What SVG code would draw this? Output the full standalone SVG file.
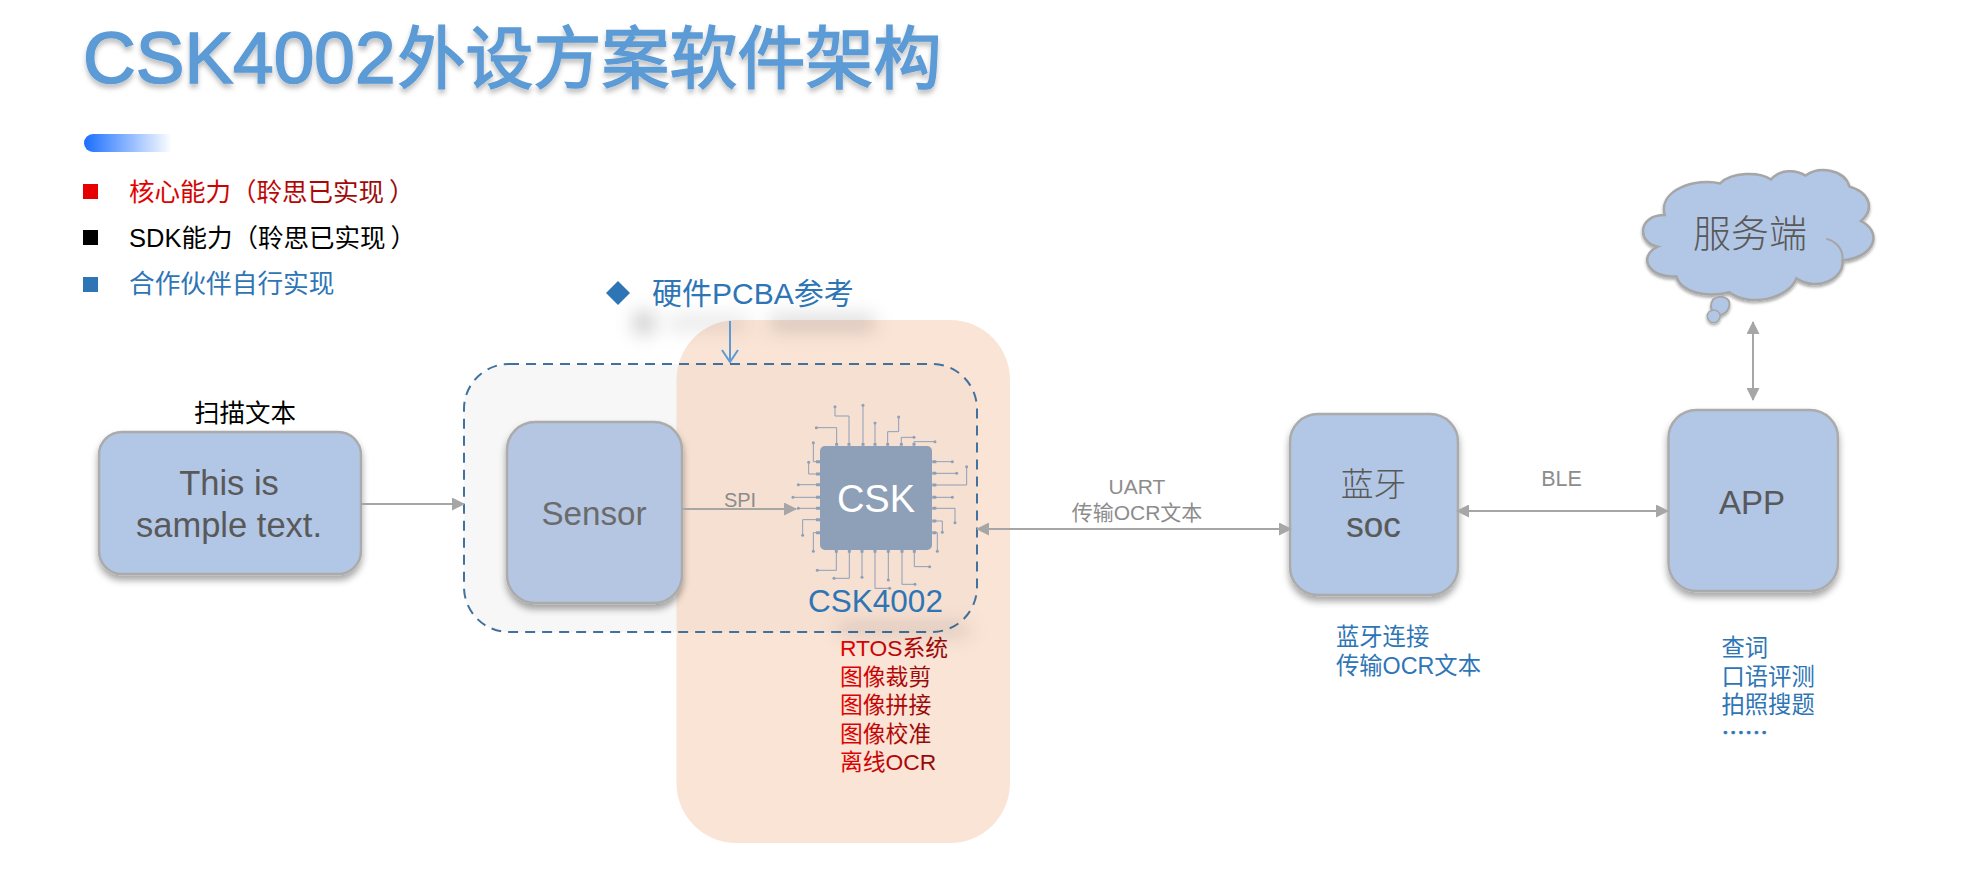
<svg xmlns="http://www.w3.org/2000/svg" width="1964" height="896" viewBox="0 0 1964 896">
<style>
text{font-family:"Liberation Sans","Noto Sans CJK SC",sans-serif}
.box{fill:#b2c6e5;stroke:#ababab;stroke-width:2.500;filter:url(#sh)}
.lab{fill:#595959}
.conn{fill:#8c8c8c}
.blue{fill:#2e75b6}
.red{fill:url(#redg)}
.line{stroke:#a6a6a6;stroke-width:2;fill:none}
.pin{fill:none;stroke:#8e9fb8;stroke-width:3}
.dot{fill:#8e9fb8}
</style>
<defs>
<linearGradient id="barg" x1="0" x2="1" y1="0" y2="0"><stop offset="0" stop-color="#1a6eff"/><stop offset="1" stop-color="#fff"/></linearGradient>
<linearGradient id="redg" x1="0" x2="1" y1="0" y2="0"><stop offset="0" stop-color="#e60000"/><stop offset="1" stop-color="#8f0a0a"/></linearGradient>
<filter id="sh" x="-20%" y="-20%" width="140%" height="140%"><feDropShadow dx="0" dy="5" stdDeviation="3.5" flood-color="#000" flood-opacity=".35"/></filter>
<filter id="tsh" x="-5%" y="-20%" width="110%" height="150%"><feDropShadow dx="0" dy="4" stdDeviation="2.500" flood-color="#000" flood-opacity=".25"/></filter>
<filter id="blur" x="-30%" y="-100%" width="160%" height="300%"><feGaussianBlur stdDeviation="9"/></filter>
<clipPath id="peach"><rect x="676.500" y="320" width="333.500" height="523" rx="60"/></clipPath>
<marker id="tri" viewBox="0 0 13 13" refX="12" refY="6.5" markerWidth="13" markerHeight="13" markerUnits="userSpaceOnUse" orient="auto-start-reverse"><path d="M0 0L13 6.5L0 13z" fill="#a6a6a6"/></marker>
<marker id="open" viewBox="0 0 18 14" refX="9" refY="13" markerWidth="18" markerHeight="14" markerUnits="userSpaceOnUse" orient="0"><path d="M1 1L9 13L17 1" fill="none" stroke="#5b9bd5" stroke-width="2"/></marker>
</defs>
<rect width="1964" height="896" fill="#fff"/>

<g id="title">
<text x="83" y="83" font-size="73" fill="#5b9bd5" stroke="#5b9bd5" stroke-width="1.600" filter="url(#tsh)">CSK4002<tspan font-size="68" dx="2">外设方案软件架构</tspan></text>
<path d="M93 134H172V152H93A9 9 0 0 1 84 143A9 9 0 0 1 93 134Z" fill="url(#barg)"/>
</g>

<g id="legend">
<rect x="83" y="184" width="15" height="15" fill="#e60000"/>
<text x="129" y="201" font-size="25.500" class="red">核心能力（聆思已实现<tspan dx="5">）</tspan></text>
<rect x="83" y="230" width="15" height="15" fill="#000"/>
<text x="129" y="247" font-size="25.500">SDK能力（聆思已实现<tspan dx="5">）</tspan></text>
<rect x="83" y="277" width="15" height="15" fill="#2e75b6"/>
<text x="129" y="293" font-size="25.700" class="blue">合作伙伴自行实现</text>
</g>

<g id="pcba-area">
<rect x="464" y="364" width="513" height="268" rx="45" fill="#f7f7f7"/>
<rect x="676.500" y="320" width="333.500" height="523" rx="60" fill="#fae4d6"/>
<rect x="464" y="364" width="513" height="268" rx="45" fill="#000" fill-opacity=".015" clip-path="url(#peach)"/>
<rect x="464" y="364" width="513" height="268" rx="45" fill="none" stroke="#41719c" stroke-width="2" stroke-dasharray="10 7"/>
</g>

<g id="pcba-label">
<g filter="url(#blur)" fill="#000" fill-opacity=".2">
<rect x="634" y="312" width="20" height="22"/>
<rect x="668" y="314" width="80" height="18" fill-opacity=".08"/>
<rect x="770" y="314" width="105" height="18" fill-opacity=".13"/>
</g>
<path d="M618 281L630 293L618 305L606 293Z" fill="#2e75b6"/>
<text x="652" y="304" font-size="30" class="blue">硬件PCBA参考</text>
</g>

<g id="soft-shadow">
<rect x="838" y="622" width="132" height="16" fill="#000" fill-opacity=".1" filter="url(#blur)"/>
</g>

<g id="scan">
<text x="245" y="422" font-size="25.500" text-anchor="middle" fill="#000">扫描文本</text>
<rect class="box" x="99" y="432" width="262" height="142" rx="23"/>
<text x="229" y="495" font-size="34.500" text-anchor="middle" class="lab">This is</text>
<text x="229" y="537" font-size="34.500" text-anchor="middle" class="lab">sample text.</text>
</g>

<g id="sensor">
<rect class="box" x="507" y="422" width="175" height="181" rx="28" style="fill:#b4c6e2"/>
<text x="594" y="525" font-size="33.200" text-anchor="middle" fill="#6b6b6b">Sensor</text>
</g>

<g id="chip">
<g transform="translate(780 390) scale(.3333)">
<path class="pin" d="M170 167V113H109M207 167V78H165V50M249 167V46M285 167V99M323 167V125H356V81M364 167V142H402M402 167V155H465M457 215H517M457 250H530M457 285H560V230M457 322H517M457 355H525V398M457 393H487V427M457 428H472V484M120 215H100V158M120 252H86V217M120 284H55M120 322H39M120 355H55M120 389H68V436M120 428H100V484M169 480V541H112M208 480V565H162M246 480V562M285 480V595H329M325 480V570M366 480V583H405M403 480V530H449"/>
<path class="pin" style="stroke-width:9" d="M170 167V159M207 167V159M249 167V159M285 167V159M323 167V159M364 167V159M402 167V159M457 215H469M457 250H469M457 285H469M457 322H469M457 355H469M457 393H469M457 428H469M120 215H108M120 252H108M120 284H108M120 322H108M120 355H108M120 389H108M120 428H108M169 480V488M208 480V488M246 480V488M285 480V488M325 480V488M366 480V488M403 480V488"/>
<g class="dot"><circle cx="109" cy="113" r="4.500"/><circle cx="165" cy="50" r="4.500"/><circle cx="249" cy="46" r="4.500"/><circle cx="285" cy="99" r="4.500"/><circle cx="356" cy="81" r="4.500"/><circle cx="402" cy="142" r="4.500"/><circle cx="465" cy="155" r="4.500"/><circle cx="517" cy="215" r="4.500"/><circle cx="530" cy="250" r="4.500"/><circle cx="560" cy="230" r="4.500"/><circle cx="517" cy="322" r="4.500"/><circle cx="525" cy="398" r="4.500"/><circle cx="487" cy="427" r="4.500"/><circle cx="472" cy="484" r="4.500"/><circle cx="100" cy="158" r="4.500"/><circle cx="86" cy="217" r="4.500"/><circle cx="55" cy="284" r="4.500"/><circle cx="39" cy="322" r="4.500"/><circle cx="55" cy="355" r="4.500"/><circle cx="68" cy="436" r="4.500"/><circle cx="100" cy="484" r="4.500"/><circle cx="112" cy="541" r="4.500"/><circle cx="162" cy="565" r="4.500"/><circle cx="246" cy="562" r="4.500"/><circle cx="329" cy="595" r="4.500"/><circle cx="325" cy="570" r="4.500"/><circle cx="405" cy="583" r="4.500"/><circle cx="449" cy="530" r="4.500"/></g>
</g>
<rect x="820" y="446" width="112" height="104" rx="5" fill="#8e9fb8"/>
<text x="876" y="512" font-size="38" text-anchor="middle" fill="#fff">CSK</text>
<text x="875.500" y="612" font-size="31.500" text-anchor="middle" class="blue">CSK4002</text>
<text x="840" y="656" font-size="22.800" class="red">RTOS系统</text>
<text x="840" y="685" font-size="22.800" class="red">图像裁剪</text>
<text x="840" y="713" font-size="22.800" class="red">图像拼接</text>
<text x="840" y="742" font-size="22.800" class="red">图像校准</text>
<text x="840" y="770" font-size="22.800" class="red">离线OCR</text>
</g>

<g id="bluetooth">
<rect class="box" x="1290" y="414" width="168" height="181" rx="28"/>
<text x="1373.500" y="496" font-size="32.800" text-anchor="middle" class="lab" font-weight="300">蓝牙</text>
<text x="1373.500" y="537" font-size="35" text-anchor="middle" class="lab" stroke="#595959" stroke-width=".2">soc</text>
<text x="1336" y="645" font-size="23.300" class="blue">蓝牙连接</text>
<text x="1336" y="674" font-size="23.300" class="blue">传输OCR文本</text>
</g>

<g id="app">
<rect class="box" x="1668.500" y="410" width="169.500" height="181" rx="28"/>
<text x="1752" y="513.500" font-size="33" text-anchor="middle" class="lab">APP</text>
<text x="1721.500" y="656" font-size="23.300" class="blue">查词</text>
<text x="1721.500" y="685" font-size="23.300" class="blue">口语评测</text>
<text x="1721.500" y="713" font-size="23.300" class="blue">拍照搜题</text>
<text x="1721.500" y="741" font-size="23.300" class="blue" stroke="#2e75b6" stroke-width=".6" style="font-family:'Noto Sans CJK SC',sans-serif">……</text>
</g>

<g id="server">
<g transform="translate(1240 140) scale(.4617 .3953)" filter="url(#sh)">
<path fill="#b2c6e5" stroke="#a6a6a6" stroke-width="2.500" vector-effect="non-scaling-stroke" d="M920 190C905 125 990 95 1040 110C1065 80 1125 80 1150 100C1170 72 1205 75 1225 90C1255 65 1310 75 1320 118C1365 133 1375 175 1345 205C1390 230 1380 295 1305 305C1310 350 1250 385 1205 350C1190 400 1105 425 1060 385C1010 400 955 385 945 345C885 350 860 295 905 270C860 260 860 190 920 190Z"/>
<path fill="#b2c6e5" stroke="#a6a6a6" stroke-width="2" vector-effect="non-scaling-stroke" d="M1025 403C1040 390 1062 398 1060 418C1058 438 1040 448 1028 440C1018 430 1018 413 1025 403Z"/>
<ellipse fill="#b2c6e5" stroke="#a6a6a6" stroke-width="1.500" vector-effect="non-scaling-stroke" cx="1026" cy="446" rx="14" ry="16"/>
<path fill="none" stroke="#a6a6a6" stroke-width="2" vector-effect="non-scaling-stroke" d="M1270 250C1295 258 1307 280 1305 305"/>
</g>
<text x="1750" y="247" font-size="38" text-anchor="middle" class="lab" font-weight="300">服务端</text>
</g>

<g id="connectors">
<line class="line" x1="361" y1="504" x2="464" y2="504" marker-end="url(#tri)"/>
<line class="line" x1="682" y1="509" x2="796" y2="509" marker-end="url(#tri)"/>
<text x="740" y="507" font-size="20" text-anchor="middle" class="conn">SPI</text>
<line class="line" x1="977" y1="529" x2="1291" y2="529" marker-start="url(#tri)" marker-end="url(#tri)"/>
<text x="1137" y="494" font-size="21" text-anchor="middle" class="conn">UART</text>
<text x="1137" y="520" font-size="21" text-anchor="middle" class="conn">传输OCR文本</text>
<line class="line" x1="1457" y1="511" x2="1668" y2="511" marker-start="url(#tri)" marker-end="url(#tri)"/>
<text x="1561.500" y="486" font-size="21.500" text-anchor="middle" class="conn">BLE</text>
<line class="line" x1="1753" y1="322" x2="1753" y2="400" marker-start="url(#tri)" marker-end="url(#tri)"/>
<line x1="730" y1="321" x2="730" y2="362" stroke="#5b9bd5" stroke-width="2" marker-end="url(#open)"/>
</g>
</svg>
